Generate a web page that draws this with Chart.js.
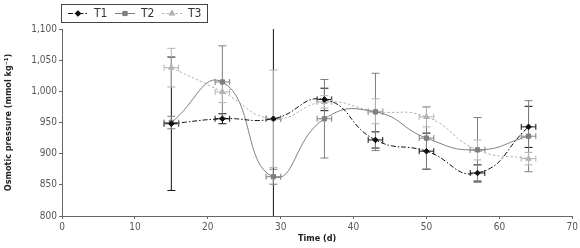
<!DOCTYPE html>
<html>
<head>
<meta charset="utf-8">
<script src="https://cdn.jsdelivr.net/npm/chart.js@4.4.1/dist/chart.umd.min.js"></script>
<style>
    html, body { margin: 0; padding: 0; background: #fff; }
    #wrap { width: 580px; height: 248px; }
</style>
</head>
<body>
<div id="wrap"><canvas id="main-chart" width="580" height="248"></canvas></div>
<script>
// sampling days
const days = [15, 22, 29, 36, 43, 50, 57, 64];
const dayErr = [1, 1, 1, 1, 1, 1, 1, 1];

// osmotic pressure (mmol/kg) per treatment
const t1 = [948, 956, 956, 987, 922, 904, 869, 943];
const t2 = [950, 1015, 863, 956, 967, 925, 906, 928];
const t3 = [1038, 999, 956, 983, 968, 959, 906, 892];

// standard deviations
const t1Err = [107, 8, 160, 18, 13, 29, 13, 33];
const t2Err = [10, 58, 12, 63, 62, 50, 52, 57];
const t3Err = [31, 17, 78, 10, 20, 16, 16, 10];

const yTicks = [800, 850, 900, 950, 1000, 1050, 1100];

const FONT = '"Liberation Sans Narrow", "DejaVu Sans Condensed", "Liberation Sans", sans-serif';

function points(ys){
    return days.map((d, i) => ({ x: d, y: ys[i] }));
}

function makeSeries(label, ys, errs, color, dash, style, radius){
    return {
        label: label,
        data: points(ys),
        errY: errs,
        errX: dayErr,
        borderColor: color,
        backgroundColor: color,
        borderWidth: 1,
        borderDash: dash,
        pointStyle: style,
        pointRadius: radius,
        pointBorderWidth: 1,
        pointBorderColor: color,
        pointBackgroundColor: color,
        tension: 0.5,
        fill: false
    };
}

// draws error bars (both directions) with caps
const errorBars = {
    id: 'errorBars',
    beforeDatasetsDraw(chart){
        const ctx = chart.ctx;
        const xs = chart.scales.x, ys = chart.scales.y;
        const area = chart.chartArea;
        ctx.save();
        ctx.beginPath();
        ctx.rect(area.left, area.top, area.right - area.left, area.bottom - area.top);
        ctx.clip();
        chart.data.datasets.forEach((ds, di) => {
            ctx.strokeStyle = ds.borderColor;
            ctx.lineWidth = 1;
            ds.data.forEach((p, i) => {
                const cx = xs.getPixelForValue(p.x);
                const cy = ys.getPixelForValue(p.y);
                const top = ys.getPixelForValue(p.y + ds.errY[i]);
                const bot = ys.getPixelForValue(p.y - ds.errY[i]);
                const l = xs.getPixelForValue(p.x - ds.errX[i]);
                const r = xs.getPixelForValue(p.x + ds.errX[i]);
                ctx.beginPath();
                ctx.moveTo(cx, top); ctx.lineTo(cx, bot);
                ctx.moveTo(cx - 4, top); ctx.lineTo(cx + 4, top);
                ctx.moveTo(cx - 4, bot); ctx.lineTo(cx + 4, bot);
                ctx.moveTo(l, cy); ctx.lineTo(r, cy);
                ctx.moveTo(l, cy - 3); ctx.lineTo(l, cy + 3);
                ctx.moveTo(r, cy - 3); ctx.lineTo(r, cy + 3);
                ctx.stroke();
            });
        });
        ctx.restore();
    }
};

// boxed legend with line + marker samples
const boxLegend = {
    id: 'boxLegend',
    afterDraw(chart){
        const ctx = chart.ctx;
        ctx.save();
        ctx.strokeStyle = '#444';
        ctx.lineWidth = 1;
        ctx.strokeRect(61.5, 4.5, 146, 18);
        const starts = [68, 115, 162];
        ctx.font = '12px ' + FONT;
        ctx.textBaseline = 'middle';
        chart.data.datasets.forEach((ds, i) => {
            const x0 = starts[i], y0 = 13.5;
            ctx.strokeStyle = ds.borderColor;
            ctx.lineWidth = 1;
            ctx.setLineDash(ds.borderDash);
            ctx.beginPath();
            ctx.moveTo(x0, y0); ctx.lineTo(x0 + 20, y0);
            ctx.stroke();
            ctx.setLineDash([]);
            Chart.helpers.drawPoint(ctx, {
                pointStyle: ds.pointStyle, radius: ds.pointRadius, borderWidth: 1, rotation: 0
            }, x0 + 10, y0);
            ctx.fillStyle = ds.borderColor;
            ctx.fill();
            ctx.fillStyle = '#333';
            ctx.fillText(ds.label, x0 + 26, y0 + 0.5);
        });
        ctx.restore();
    }
};

const chart = new Chart(document.getElementById('main-chart'), {
    type: 'line',
    data: {
        datasets: [
            makeSeries('T1', t1, t1Err, '#111111', [5, 2, 1.5, 2], 'rectRot', 2.8),
            makeSeries('T2', t2, t2Err, '#7f7f7f', [], 'rect', 3),
            makeSeries('T3', t3, t3Err, '#b3b3b3', [2.5, 2], 'triangle', 3.2)
        ]
    },
    options: {
        responsive: false,
        animation: false,
        devicePixelRatio: 1,
        layout: { padding: { top: 29, right: 7, left: 3, bottom: 0 } },
        plugins: {
            legend: { display: false },
            tooltip: { enabled: false }
        },
        scales: {
            x: {
                type: 'linear',
                min: 0, max: 70,
                ticks: { stepSize: 10, color: '#555', font: { family: FONT, size: 10 }, padding: 2 },
                grid: { drawOnChartArea: false, drawTicks: true, tickLength: 3, color: '#666' },
                border: { display: true, color: '#666' },
                title: {
                    display: true, text: 'Time (d)', color: '#222',
                    font: { family: FONT, size: 9, weight: 'bold' }, padding: { top: 0, bottom: 4 }
                },
                afterFit(scale){ scale.height = 32; }
            },
            y: {
                min: 800, max: 1100,
                afterBuildTicks(scale){ scale.ticks = yTicks.map(v => ({ value: v })); },
                ticks: {
                    color: '#555', font: { family: FONT, size: 10 }, padding: 2,
                    callback: v => v.toLocaleString('en-US')
                },
                grid: { drawOnChartArea: false, drawTicks: true, tickLength: 3, color: '#666' },
                border: { display: true, color: '#666' },
                title: {
                    display: true, text: 'Osmotic pressure (mmol kg⁻¹)', color: '#222',
                    font: { family: FONT, size: 9, weight: 'bold' }, padding: { top: 0, bottom: 2 }
                },
                afterFit(scale){ scale.width = 59; }
            }
        }
    },
    plugins: [errorBars, boxLegend]
});
</script>
</body>
</html>
